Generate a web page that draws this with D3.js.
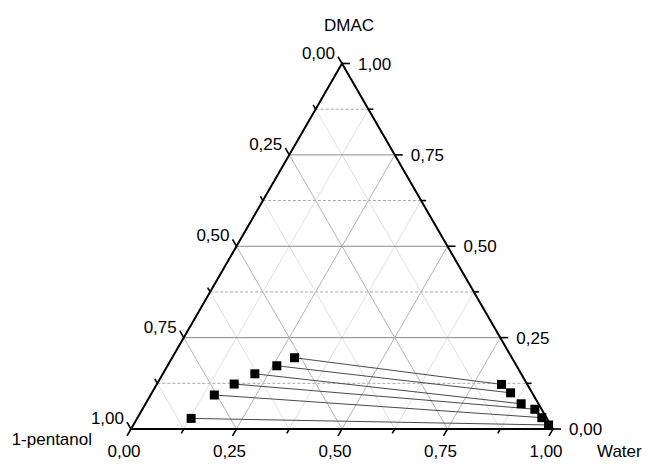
<!DOCTYPE html>
<html>
<head>
<meta charset="utf-8">
<script src="https://cdn.jsdelivr.net/npm/d3@7"></script>
<style>
  body { margin: 0; background: #fff; }
  text { font-family: "Liberation Sans", Arial, sans-serif; font-size: 17px; fill: #000; }
</style>
</head>
<body>
<svg id="chart" width="650" height="468"></svg>
<script>
// Components at the three corners
const topComponent = "DMAC";
const leftComponent = "1-pentanol";
const rightComponent = "Water";

// Axis ticks (mass fraction)
const majorTicks = [0, 0.25, 0.5, 0.75, 1];
const minorTicks = [0.125, 0.375, 0.625, 0.875];
const tickLabels = ["0,00", "0,25", "0,50", "0,75", "1,00"];

// Tie lines: 1-pentanol-rich phase (mass fractions of water and DMAC)
const organicWater = [0.128, 0.151, 0.183, 0.218, 0.259, 0.290];
const organicDMAC  = [0.029, 0.093, 0.123, 0.151, 0.173, 0.195];
// Tie lines: water-rich phase
const aqueousWater = [0.984, 0.958, 0.930, 0.890, 0.850, 0.817];
const aqueousDMAC  = [0.011, 0.031, 0.054, 0.069, 0.099, 0.122];

const svg = d3.select("#chart");

// Triangle frame: base from the 1-pentanol corner to the water corner, apex = DMAC
const x = d3.scaleLinear().domain([0, 1]).range([131, 553]);
const y = d3.scaleLinear().domain([0, 1]).range([429, 63.5]);
// composition (water, dmac) -> screen point
const P = (w, d) => [x(w + d / 2), y(d)];

const line = d3.line();
const g = svg.append("g");

// ---- grid ----
const gridG = g.append("g");
function gridSet(vals, major) {
  vals.filter(v => v > 0 && v < 1).forEach(v => {
    // constant DMAC (horizontal)
    gridG.append("path")
      .attr("d", line([P(0, v), P(1 - v, v)]))
      .attr("fill", "none")
      .attr("stroke", major ? "#8a8a8a" : "#a8a8a8")
      .attr("stroke-width", 1)
      .attr("stroke-dasharray", major ? null : "3,2");
    // constant water
    gridG.append("path")
      .attr("d", line([P(v, 0), P(v, 1 - v)]))
      .attr("fill", "none")
      .attr("stroke", major ? "#b4b4b4" : "#e0e0e0")
      .attr("stroke-width", 1);
    // constant 1-pentanol
    gridG.append("path")
      .attr("d", line([P(1 - v, 0), P(0, 1 - v)]))
      .attr("fill", "none")
      .attr("stroke", major ? "#b4b4b4" : "#e0e0e0")
      .attr("stroke-width", 1);
  });
}
gridSet(minorTicks, false);
gridSet(majorTicks, true);

// ---- tie lines ----
const ties = organicWater.map((w, i) => ({
  a: P(w, organicDMAC[i]),
  b: P(aqueousWater[i], aqueousDMAC[i])
}));
g.append("g").selectAll("path").data(ties).join("path")
  .attr("d", t => line([t.a, t.b]))
  .attr("fill", "none")
  .attr("stroke", "#4a4a4a")
  .attr("stroke-width", 1);

// ---- triangle frame ----
g.append("path")
  .attr("d", line([P(0, 0), P(1, 0), P(0, 1)]) + "Z")
  .attr("fill", "none")
  .attr("stroke", "#000")
  .attr("stroke-width", 2)
  .attr("stroke-linejoin", "miter");

// ---- ticks ----
const tickG = g.append("g").attr("stroke", "#000").attr("stroke-width", 1.6);
const dirBottom = [-0.5, 0.866], dirLeft = [-0.5, -0.866], dirRight = [1, 0];
function tick(p, dir, len) {
  tickG.append("path").attr("d", line([p, [p[0] + dir[0] * len, p[1] + dir[1] * len]]));
}
majorTicks.forEach(v => {
  tick(P(v, 0), dirBottom, 8);          // water axis
  tick(P(0, 1 - v), dirLeft, 8);        // 1-pentanol axis
  tick(P(1 - v, v), dirRight, 8);       // DMAC axis
});
minorTicks.forEach(v => {
  tick(P(v, 0), dirBottom, 5);
  tick(P(0, 1 - v), dirLeft, 5);
  tick(P(1 - v, v), dirRight, 5);
});

// ---- tick labels ----
const labG = g.append("g");
majorTicks.forEach((v, i) => {
  const b = P(v, 0);
  labG.append("text").attr("x", b[0] - 7).attr("y", 457)
    .attr("text-anchor", "middle").text(tickLabels[i]);
  const l = P(0, 1 - v);
  labG.append("text").attr("x", l[0] - 7).attr("y", l[1] - 5)
    .attr("text-anchor", "end").text(tickLabels[i]);
  const r = P(1 - v, v);
  labG.append("text").attr("x", r[0] + 16).attr("y", r[1] + 6)
    .attr("text-anchor", "start").text(tickLabels[i]);
});

// ---- corner titles ----
labG.append("text").attr("x", 349).attr("y", 31).attr("text-anchor", "middle").text(topComponent);
labG.append("text").attr("x", 92).attr("y", 445).attr("text-anchor", "end").text(leftComponent);
labG.append("text").attr("x", 597).attr("y", 457).attr("text-anchor", "start").text(rightComponent);

// ---- markers ----
const pts = [
  ...organicWater.map((w, i) => P(w, organicDMAC[i])),
  ...aqueousWater.map((w, i) => P(w, aqueousDMAC[i]))
];
const s = 9;
g.append("g").selectAll("rect").data(pts).join("rect")
  .attr("x", d => d[0] - s / 2).attr("y", d => d[1] - s / 2)
  .attr("width", s).attr("height", s)
  .attr("fill", "#000");
</script>
</body>
</html>
